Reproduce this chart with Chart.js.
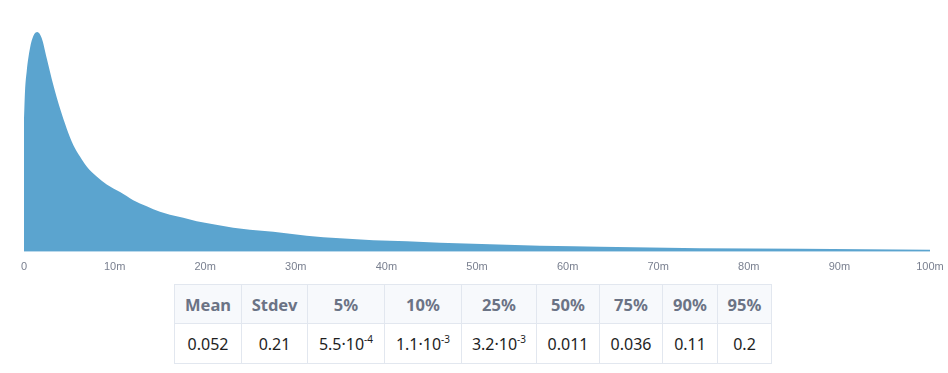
<!DOCTYPE html>
<html>
<head>
<meta charset="utf-8">
<script src="https://cdn.jsdelivr.net/npm/chart.js@4/dist/chart.umd.min.js"></script>
<style>
  html, body { margin: 0; padding: 0; background: #fff; }
  #wrap { position: relative; width: 948px; height: 290px; }
  table { border-collapse: collapse; margin: -6px 0 0 174px; font-family: "Noto Sans", "Open Sans", sans-serif; font-size: 16px; border: 1px solid #a7b1c4; }
  th, td { border: 1px solid #e2e7ef; text-align: center; padding: 0; white-space: nowrap; }
  th { background: #f7f9fc; color: #6b7385; font-weight: bold; height: 38px; font-size: 16.5px; }
  td { color: #1e1e1e; height: 39px; }
  sup { font-size: 10px; vertical-align: 7px; line-height: 0; }
</style>
</head>
<body>
<div id="wrap"><canvas id="c"></canvas></div>
<table id="stats"><thead><tr id="hdr"></tr></thead><tbody><tr id="vals"></tr></tbody></table>
<script>
// Sample positions (value units, 0.001 = 1m) and read density heights
const xs = [0, 0.00011, 0.00030, 0.00066, 0.00103, 0.00147, 0.00195, 0.00251, 0.00323, 0.00397,
            0.00471, 0.00544, 0.00618, 0.00692, 0.00802, 0.00913, 0.01060, 0.01206, 0.01354,
            0.01501, 0.01611, 0.01758, 0.01906, 0.02089, 0.02310, 0.02494, 0.02752, 0.03120,
            0.03488, 0.03855, 0.04224, 0.04592, 0.04959, 0.05328, 0.05695, 0.06063, 0.06358,
            0.07461, 0.08565, 0.1000];
const density = [133, 160, 180, 203, 215, 219, 213, 193, 166.5, 143,
                 123, 106.5, 95, 85, 75, 67, 59.5, 51.5, 45.5,
                 40, 37, 34, 30.5, 27.5, 24, 22, 20, 16,
                 13.5, 11.5, 10.5, 9, 8, 7, 6, 5.5, 5,
                 3.5, 3, 2];
const tickValues = [0, 0.01, 0.02, 0.03, 0.04, 0.05, 0.06, 0.07, 0.08, 0.09, 0.1];

const statLabels = ["Mean", "Stdev", "5%", "10%", "25%", "50%", "75%", "90%", "95%"];
const statValues = ["0.052", "0.21", "5.5·10<sup>-4</sup>", "1.1·10<sup>-3</sup>", "3.2·10<sup>-3</sup>", "0.011", "0.036", "0.11", "0.2"];
const colWidths = [66, 65, 76, 76, 74, 62, 62, 54, 53];

const hdr = document.getElementById('hdr');
const vals = document.getElementById('vals');
statLabels.forEach((l, i) => {
  const th = document.createElement('th'); th.textContent = l; th.style.width = colWidths[i] + 'px'; hdr.appendChild(th);
  const td = document.createElement('td'); td.innerHTML = statValues[i]; vals.appendChild(td);
});

const pts = xs.map((x, i) => ({ x: x, y: density[i] }));

new Chart(document.getElementById('c'), {
  type: 'line',
  data: {
    datasets: [{
      data: pts,
      fill: 'origin',
      backgroundColor: '#5ba4cf',
      borderWidth: 0,
      borderColor: 'rgba(0,0,0,0)',
      pointRadius: 0,
      cubicInterpolationMode: 'monotone'
    }]
  },
  options: {
    responsive: true,
    maintainAspectRatio: false,
    animation: false,
    layout: { padding: { left: 24, right: 18, top: 10, bottom: 7 } },
    plugins: { legend: { display: false }, tooltip: { enabled: false } },
    scales: {
      x: {
        type: 'linear',
        min: 0, max: 0.1,
        grid: { display: false, drawTicks: false },
        border: { display: false },
        afterBuildTicks: (axis) => { axis.ticks = tickValues.map(v => ({ value: v })); },
        afterFit: (axis) => { axis.paddingLeft = 0; axis.paddingRight = 0; },
        ticks: {
          padding: 9,
          color: '#7a8090',
          font: { family: 'Liberation Sans', size: 11 },
          maxRotation: 0,
          autoSkip: false,
          callback: (v) => { const m = Math.round(v * 1000); return m === 0 ? '0' : m + 'm'; }
        }
      },
      y: { display: false, min: 0, max: 241 }
    }
  }
});
</script>
</body>
</html>
